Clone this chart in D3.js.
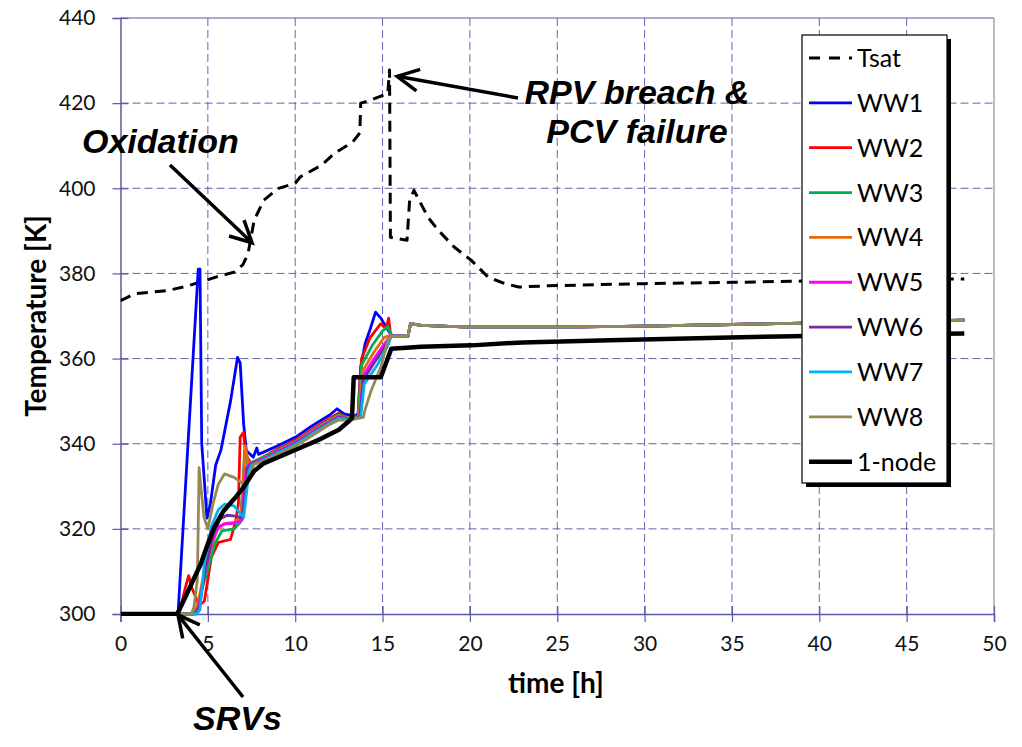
<!DOCTYPE html>
<html>
<head>
<meta charset="utf-8">
<script src="https://cdn.jsdelivr.net/npm/d3@7"></script>
<style>
  body { margin: 0; background: #fff; }
</style>
</head>
<body>
<div id="wrapper"></div>
<script>
const w = 1022
const h = 747

// axis ticks
const xTicks = [0, 5, 10, 15, 20, 25, 30, 35, 40, 45, 50]
const yTicks = [300, 320, 340, 360, 380, 400, 420, 440]

// legend / series
const seriesNames = ['Tsat', 'WW1', 'WW2', 'WW3', 'WW4', 'WW5', 'WW6', 'WW7', 'WW8', '1-node']
const seriesColors = ['#000000', '#0000ff', '#ff0000', '#00b050', '#e46c0a', '#ff00ff', '#7030a0', '#00b0f0', '#948a54', '#000000']

// [time h, temperature K]
const tsat = [[0, 373.6], [0.8, 375.2], [2.7, 376], [3.6, 376.8], [4.6, 378], [5.5, 379.2], [6.5, 380.3],
  [7.0, 382], [7.3, 384.6], [7.65, 392.5], [8.2, 397.2], [9, 399.9], [10, 401.2], [10.3, 402.7],
  [11.5, 405.4], [12.25, 408.2], [13.3, 410.9], [13.7, 413], [13.75, 420], [14.2, 420.5], [15.3, 422.3],
  [15.4, 427.8], [15.45, 388.5], [16.4, 387.8], [16.55, 397.2], [16.8, 399.5], [17.6, 393.2], [18.2, 390.1],
  [19.1, 386.2], [20.1, 383], [21.05, 379.1], [22.0, 377.6], [22.8, 376.8], [24.5, 377.1], [30, 377.6],
  [35, 377.9], [39, 378.2], [48.3, 378.7]]

// common late-time part of the wetwell curves
const wwTail = [[16.45, 365.2], [16.6, 368.2], [17.2, 367.8], [20, 367.4], [25, 367.4], [30, 367.6],
  [35, 368], [40, 368.4], [45, 368.8], [48.3, 369]]

const ww1 = [[0, 300], [3.2, 300], [3.3, 300.5], [4.45, 381], [4.55, 381], [4.65, 340], [4.95, 322.5],
  [5.15, 326], [5.45, 335], [5.75, 338.5], [6.3, 350], [6.7, 360.3], [6.85, 359], [7.05, 344.6], [7.2, 338.4],
  [7.6, 336.8], [7.8, 339], [7.9, 337.5], [9, 339.5], [10, 341.5], [11, 344.3], [12, 346.8], [12.4, 348.2],
  [12.8, 347], [13.4, 346.5], [13.6, 347], [13.75, 358], [14.0, 363.5], [14.3, 367], [14.6, 370.9],
  [14.9, 369.5], [15.2, 367.5], [15.5, 365.5]]
const ww2 = [[0, 300], [3.35, 300], [3.7, 306], [3.9, 309], [4.1, 306], [4.5, 302], [4.8, 303], [5.2, 313.3],
  [5.6, 316.8], [5.95, 317.2], [6.3, 317.5], [6.6, 322], [6.75, 326], [6.85, 341.5], [7.05, 342.7],
  [7.15, 337.6], [7.45, 335.4], [8, 336.5], [9, 338.8], [10, 340.8], [11, 343.5], [12, 346], [12.5, 347.2],
  [13, 346], [13.6, 346.5], [13.8, 360], [14.3, 365], [14.9, 368.2], [15.2, 367], [15.35, 369.5],
  [15.45, 366], [15.55, 365.4]]
const ww3 = [[0, 300], [4.0, 300], [4.3, 300.8], [4.6, 305], [5.0, 310.5], [5.4, 316.5], [5.8, 319.5],
  [6.5, 320], [6.85, 321.5], [7.0, 330], [7.1, 338.4], [7.27, 335.2], [7.6, 335.8], [8, 336.5], [9, 338.5],
  [10, 340.5], [11, 343.2], [12, 345.7], [12.5, 346.8], [13, 346], [13.6, 346.3], [13.8, 358.5],
  [14.4, 363], [15.0, 366.5], [15.3, 367.5], [15.5, 365.5]]
const ww4 = [[0, 300], [4.1, 300], [4.35, 301], [4.7, 308], [5.1, 314.5], [5.5, 319.5], [5.9, 321.2],
  [6.5, 321.5], [6.9, 323], [7.05, 333], [7.15, 339.5], [7.3, 335.5], [7.6, 335.6], [8, 336.3], [9, 338.3],
  [10, 340.3], [11, 343], [12, 345.5], [12.5, 346.5], [13, 345.8], [13.65, 346.3], [13.85, 357],
  [14.5, 361.5], [15.1, 365], [15.5, 365.5]]
const ww5 = [[0, 300], [4.2, 300], [4.45, 301], [4.8, 309], [5.2, 316.5], [5.6, 320.5], [6.0, 321.2],
  [6.5, 321.3], [6.95, 322], [7.1, 330], [7.2, 334.5], [7.4, 335.2], [8, 336.2], [9, 338.2], [10, 340.2],
  [11, 342.8], [12, 345.3], [12.5, 346.4], [13, 345.8], [13.7, 346.2], [13.9, 356], [14.6, 360.5],
  [15.2, 364], [15.5, 365.4]]
const ww6 = [[0, 300], [4.25, 300], [4.5, 301.5], [4.85, 310.5], [5.3, 318.5], [5.7, 322.3], [6.1, 323.2],
  [6.6, 323], [7.0, 322.5], [7.1, 328], [7.25, 334], [7.45, 335.2], [8, 336], [9, 338], [10, 340],
  [11, 342.6], [12, 345.1], [12.5, 346.2], [13, 345.7], [13.7, 346.2], [13.9, 355], [14.6, 359.5],
  [15.25, 363.5], [15.5, 365.3]]
const ww7 = [[0, 300], [4.35, 300], [4.55, 301], [4.8, 312], [5.2, 320.5], [5.6, 324.5], [5.95, 325.8],
  [6.5, 325.4], [7.05, 322.7], [7.2, 328], [7.35, 333.5], [7.5, 335], [8, 335.8], [9, 337.8], [10, 339.8],
  [11, 342.4], [12, 344.9], [12.5, 346], [13, 345.6], [13.75, 346.2], [13.95, 354], [14.7, 358.5],
  [15.3, 363], [15.5, 365.3]]
const ww8 = [[0, 300], [4.05, 300], [4.2, 301.5], [4.4, 308], [4.5, 334.4], [4.6, 330], [4.78, 322.7],
  [5.0, 320], [5.3, 326], [5.6, 330.5], [5.95, 332.9], [6.5, 332.1], [7.05, 330.5], [7.3, 332], [7.65, 335.2],
  [8, 335.6], [9, 337.5], [10, 339.4], [11, 342], [12, 344.6], [12.5, 345.6], [13, 345.5], [13.9, 346.2],
  [14.0, 348], [14.35, 352.5], [14.9, 358], [15.3, 364.2], [15.5, 365.3]]
const oneNode = [[0, 300], [3.25, 300], [3.6, 303], [4.0, 306.5], [4.6, 311.8], [5.0, 316.5], [5.36, 320.3],
  [5.9, 324.2], [6.5, 327], [7.0, 329.5], [7.65, 333.6], [8.2, 335.4], [8.8, 336.4], [10.33, 339.1],
  [11.5, 341.2], [12.5, 343.3], [13.1, 345.4], [13.25, 346], [13.35, 355.6], [14.9, 355.6], [15.5, 362.3],
  [17.2, 362.8], [20.1, 363.1], [23, 363.8], [28, 364.3], [34.25, 364.9], [37.7, 365.2], [45.7, 365.8],
  [48.3, 365.9]]

const seriesData = [tsat, ww1.concat(wwTail), ww2.concat(wwTail), ww3.concat(wwTail), ww4.concat(wwTail),
  ww5.concat(wwTail), ww6.concat(wwTail), ww7.concat(wwTail), ww8.concat(wwTail), oneNode]

// annotations: label, text position, arrow tail (px) and arrow tip (data coords)
const notes = [
  { lines: ['Oxidation'], x: 82, y: 153, anchor: 'start', tail: [170, 165], tip: [7.53, 387.2] },
  { lines: ['RPV breach &', 'PCV failure'], x: 637, y: 104, anchor: 'middle', tail: [518, 98], tip: [15.84, 426.3] },
  { lines: ['SRVs'], x: 193, y: 730, anchor: 'start', tail: [243, 697], tip: [3.29, 299.8] }
]

const margin = { left: 120.5, right: 28, top: 18, bottom: 133 }
const gridColor = '#6464b4'
const axisColor = '#5a5aa8'

const svg = d3.select('#wrapper').append('svg')
  .attr('width', w)
  .attr('height', h)
  .style('font-family', 'Lato, "Open Sans", sans-serif')

const x = d3.scaleLinear().domain([0, 50]).range([margin.left, w - margin.right])
const y = d3.scaleLinear().domain([300, 440]).range([h - margin.bottom, margin.top])

// grid
svg.append('g').selectAll('line')
  .data(yTicks.filter(d => d > 300 && d < 440))
  .join('line')
  .attr('x1', x(0)).attr('x2', x(50))
  .attr('y1', d => y(d)).attr('y2', d => y(d))
  .attr('stroke', gridColor).attr('stroke-width', 1)
  .attr('stroke-dasharray', '8,4')

svg.append('g').selectAll('line')
  .data(xTicks.filter(d => d > 0 && d < 50))
  .join('line')
  .attr('x1', d => x(d)).attr('x2', d => x(d))
  .attr('y1', y(440)).attr('y2', y(300))
  .attr('stroke', gridColor).attr('stroke-width', 1)
  .attr('stroke-dasharray', '8,4')

// frame
svg.append('line')
  .attr('x1', x(0)).attr('x2', x(50)).attr('y1', y(440)).attr('y2', y(440))
  .attr('stroke', axisColor).attr('stroke-width', 1.2)
svg.append('line')
  .attr('x1', x(50)).attr('x2', x(50)).attr('y1', y(440)).attr('y2', y(300))
  .attr('stroke', '#a6a6a6').attr('stroke-width', 1.5)

// axes (ticks cross the axis line)
const yAxis = svg.append('g')
  .attr('transform', `translate(${x(0)},0)`)
  .call(d3.axisLeft(y).tickValues(yTicks).tickSize(8).tickPadding(17))
yAxis.select('.domain').attr('stroke', axisColor).attr('stroke-width', 1.5)
yAxis.selectAll('.tick line').attr('stroke', axisColor).attr('x2', 8).attr('x1', -8).attr('stroke-width', 1.2)
yAxis.selectAll('.tick text').attr('font-size', 21).attr('fill', '#111').attr('font-family', 'Lato, sans-serif')

const xAxis = svg.append('g')
  .attr('transform', `translate(0,${y(300)})`)
  .call(d3.axisBottom(x).tickValues(xTicks).tickSize(8).tickPadding(14))
xAxis.select('.domain').attr('stroke', axisColor).attr('stroke-width', 1.5)
xAxis.selectAll('.tick line').attr('stroke', axisColor).attr('y1', -8).attr('y2', 8).attr('stroke-width', 1.2)
xAxis.selectAll('.tick text').attr('font-size', 21).attr('fill', '#111').attr('font-family', 'Lato, sans-serif')

// axis titles
svg.append('text')
  .attr('transform', `translate(46,${(y(300) + y(440)) / 2}) rotate(-90)`)
  .attr('text-anchor', 'middle')
  .attr('font-size', 28).attr('font-weight', 'bold')
  .text('Temperature [K]')

svg.append('text')
  .attr('x', 556)
  .attr('y', 693)
  .attr('text-anchor', 'middle')
  .attr('font-size', 28).attr('font-weight', 'bold')
  .text('time [h]')

// curves
svg.append('clipPath').attr('id', 'plot-clip')
  .append('rect')
  .attr('x', x(0)).attr('y', y(440) - 2)
  .attr('width', x(50) - x(0)).attr('height', y(300) - y(440) + 4)

const line = d3.line()
  .x(d => x(d[0]))
  .y(d => y(d[1]))

svg.append('g')
  .attr('clip-path', 'url(#plot-clip)')
  .selectAll('path')
  .data(seriesData)
  .join('path')
  .attr('d', line)
  .attr('fill', 'none')
  .attr('stroke', (d, i) => seriesColors[i])
  .attr('stroke-width', (d, i) => i === 0 ? 3 : (i === 9 ? 4.5 : 2.8))
  .attr('stroke-dasharray', (d, i) => i === 0 ? '11,7' : null)
  .attr('stroke-linejoin', 'round')

// legend
const lg = svg.append('g')
lg.append('rect')
  .attr('x', 806).attr('y', 39).attr('width', 145).attr('height', 448)
  .attr('fill', '#000')
lg.append('rect')
  .attr('x', 802).attr('y', 35).attr('width', 145).attr('height', 448)
  .attr('fill', '#fff').attr('stroke', '#000').attr('stroke-width', 1.2)

const items = lg.selectAll('.item')
  .data(seriesNames)
  .join('g')
  .attr('class', 'item')
  .attr('transform', (d, i) => `translate(0,${58 + i * 44.85})`)

items.append('line')
  .attr('x1', 809).attr('x2', 852)
  .attr('stroke', (d, i) => seriesColors[i])
  .attr('stroke-width', (d, i) => i === 0 ? 3 : (i === 9 ? 4.5 : 2.8))
  .attr('stroke-dasharray', (d, i) => i === 0 ? '11,9' : null)

items.append('text')
  .attr('x', 857).attr('dy', '0.36em')
  .attr('font-size', 25)
  .attr('fill', '#000')
  .text(d => d)

// annotations with arrows
const ann = svg.append('g')
  .style('font-family', '"Liberation Sans", Arial, sans-serif')

notes.forEach(n => {
  n.lines.forEach((t, k) => {
    ann.append('text')
      .attr('x', n.x).attr('y', n.y + k * 39)
      .attr('text-anchor', n.anchor)
      .attr('font-size', 34).attr('font-weight', 'bold').attr('font-style', 'italic')
      .text(t)
  })
  const tx = x(n.tip[0]), ty = y(n.tip[1])
  const ang = Math.atan2(n.tail[1] - ty, n.tail[0] - tx)
  const len = 24, spread = 27 * Math.PI / 180
  ann.append('line')
    .attr('x1', n.tail[0]).attr('y1', n.tail[1])
    .attr('x2', tx).attr('y2', ty)
    .attr('stroke', '#000').attr('stroke-width', 3.5)
  ann.append('path')
    .attr('d', `M${tx + len * Math.cos(ang - spread)},${ty + len * Math.sin(ang - spread)}L${tx},${ty}L${tx + len * Math.cos(ang + spread)},${ty + len * Math.sin(ang + spread)}`)
    .attr('fill', 'none').attr('stroke', '#000').attr('stroke-width', 3.5)
    .attr('stroke-linejoin', 'miter')
})
</script>
</body>
</html>
